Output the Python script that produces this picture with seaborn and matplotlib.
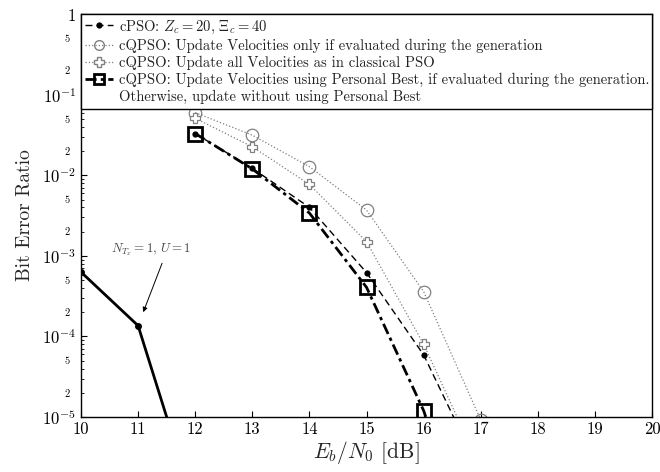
import numpy as np
import pandas as pd
import matplotlib
matplotlib.use("Agg")
import matplotlib.pyplot as plt
import seaborn as sns
from matplotlib.ticker import FixedLocator, FuncFormatter
from matplotlib.lines import Line2D

# ---- data ----
snr_single = [10, 11, 12]
ber_single = [6.3e-4, 1.36e-4, 7.4e-7]

snr = [12, 13, 14, 15, 16, 17]
ber_cpso = [3.3e-2, 1.22e-2, 4.0e-3, 6.2e-4, 5.9e-5, 2.0e-6]
ber_q_eval = [6.0e-2, 3.15e-2, 1.28e-2, 3.7e-3, 3.6e-4, 9.2e-6]
ber_q_all = [5.1e-2, 2.26e-2, 7.7e-3, 1.5e-3, 8.0e-5, 2.3e-6]
ber_q_pbest = [3.3e-2, 1.2e-2, 3.4e-3, 4.07e-4, 1.2e-5, 1.0e-7]

labels = [
    r"cPSO: $Z_c=20$, $\Xi_c=40$",
    "cQPSO: Update Velocities only if evaluated during the generation",
    "cQPSO: Update all Velocities as in classical PSO",
    "cQPSO: Update Velocities using Personal Best, if evaluated during the generation.",
    "Otherwise, update without using Personal Best",
]
xticks = list(range(10, 21))

# ---- style ----
sns.set_theme(style="ticks")
plt.rcParams.update({
    "font.family": "serif",
    "font.serif": ["cmr10", "DejaVu Serif"],
    "mathtext.fontset": "cm",
    "axes.unicode_minus": False,
    "axes.formatter.use_mathtext": True,
    "axes.edgecolor": "black",
    "axes.linewidth": 1.0,
    "xtick.direction": "in",
    "ytick.direction": "in",
    "xtick.color": "black",
    "ytick.color": "black",
})

fig = plt.figure(figsize=(6.6, 4.72), dpi=100)
ax = fig.add_axes([0.1227, 0.1165, 0.8653, 0.8535])
ax.set_yscale("log")

gray = "#808080"

sns.lineplot(x=snr_single, y=ber_single, ax=ax, color="black", lw=2.0,
             marker="o", markersize=5, markeredgewidth=0, linestyle="-")
sns.lineplot(x=snr, y=ber_cpso, ax=ax, color="black", lw=1.0,
             marker="o", markersize=4.5, markeredgewidth=0,
             dashes=(5, 3))
sns.lineplot(x=snr, y=ber_q_eval, ax=ax, color=gray, lw=0.9,
             marker="o", markersize=9, markerfacecolor="none",
             markeredgecolor=gray, markeredgewidth=0.9, linestyle=":")
sns.lineplot(x=snr, y=ber_q_all, ax=ax, color=gray, lw=0.9,
             marker="P", markersize=7.5, markerfacecolor="white",
             markeredgecolor=gray, markeredgewidth=0.9, linestyle=":")
sns.lineplot(x=snr, y=ber_q_pbest, ax=ax, color="black", lw=2.0,
             marker="s", markersize=10, markerfacecolor="none",
             markeredgecolor="black", markeredgewidth=2.0,
             dashes=(4, 1.5, 1.2, 1.5))

ax.set_xlim(10, 20)
ax.set_ylim(1e-5, 1)
ax.set_xticks(xticks)
ax.set_xticklabels([str(t) for t in xticks], fontsize=12)

majors = [1e-5, 1e-4, 1e-3, 1e-2, 1e-1, 1]
minors = [m * 10.0 ** e for e in range(-5, 0) for m in range(2, 10)]
ax.yaxis.set_major_locator(FixedLocator(majors))
ax.yaxis.set_minor_locator(FixedLocator(minors))

def major_fmt(v, pos):
    e = int(round(np.log10(v)))
    return r"$1$" if e == 0 else r"$10^{%d}$" % e

def minor_fmt(v, pos):
    e = np.floor(np.log10(v) + 1e-9)
    m = int(round(v / 10.0 ** e))
    return str(m) if m in (2, 5) else ""

ax.yaxis.set_major_formatter(FuncFormatter(major_fmt))
ax.yaxis.set_minor_formatter(FuncFormatter(minor_fmt))
ax.tick_params(axis="y", which="major", labelsize=12, length=4, width=0.8)
ax.tick_params(axis="y", which="minor", labelsize=7.5, length=2.5, width=0.6, pad=8)
ax.tick_params(axis="x", which="major", length=4, width=0.8)
ax.tick_params(top=False, right=False)

ax.set_xlabel(r"$E_b/N_0$ [dB]", fontsize=15.5, labelpad=1)
ax.set_ylabel("Bit Error Ratio", fontsize=14, labelpad=6)

ax.text(11.23, 1.2e-3, r"$N_{T_x}=1$, $U=1$", fontsize=9.3, color="#444444",
        ha="center", va="center")
ax.annotate("", xy=(11.09, 2.0e-4), xytext=(11.42, 8.1e-4),
            arrowprops=dict(arrowstyle="-|>", color="black", lw=0.7,
                            shrinkA=0, shrinkB=0, mutation_scale=7))

handles = [
    Line2D([], [], color="black", lw=1.0, marker="o", markersize=4.5,
           markeredgewidth=0, dashes=(5, 3)),
    Line2D([], [], color=gray, lw=0.9, marker="o", markersize=7,
           markerfacecolor="none", markeredgecolor=gray, linestyle=":"),
    Line2D([], [], color=gray, lw=0.9, marker="P", markersize=7,
           markerfacecolor="white", markeredgecolor=gray, linestyle=":"),
    Line2D([], [], color="black", lw=2.0, marker="s", markersize=7.5,
           markerfacecolor="none", markeredgewidth=2.0,
           dashes=(4, 1.5, 1.2, 1.5)),
    Line2D([], [], color="none", lw=0),
]
leg = ax.legend(handles, labels, loc="upper left", bbox_to_anchor=(0, 1, 1, 0),
                mode="expand", borderaxespad=0, fancybox=False, framealpha=1,
                edgecolor="black", fontsize=10.5, handlelength=1.9,
                handletextpad=0.4, labelspacing=0.2, borderpad=0.3,
                facecolor="white")
leg.get_frame().set_linewidth(1.0)
for t in leg.get_texts():
    t.set_color("#222222")

fig.savefig("out.png", dpi=100, facecolor="white")
